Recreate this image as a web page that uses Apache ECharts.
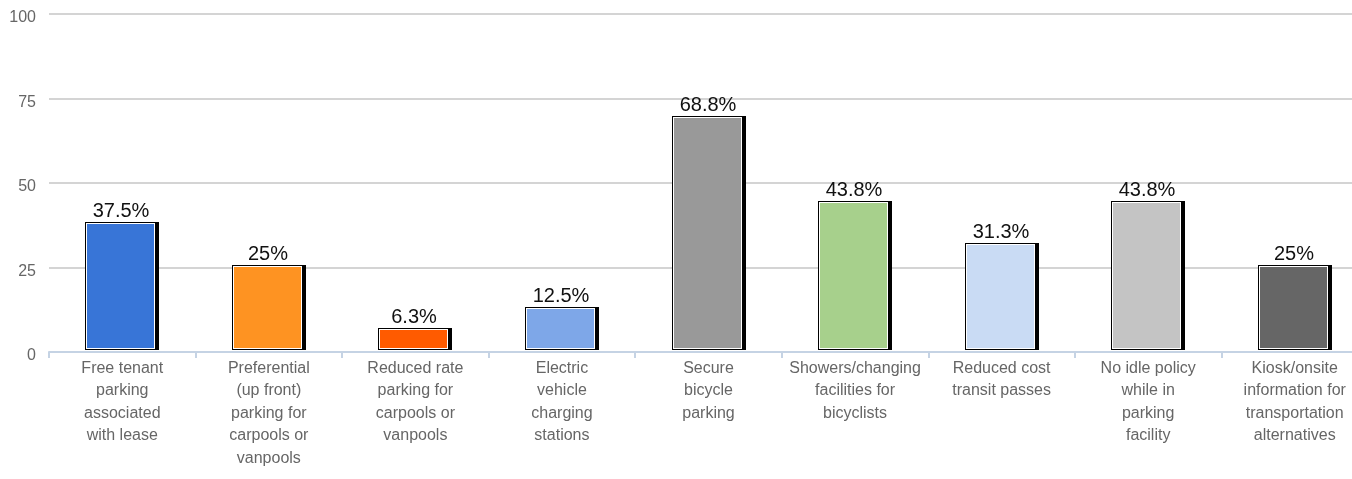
<!DOCTYPE html>
<html>
<head>
<meta charset="utf-8">
<script src="https://cdn.jsdelivr.net/npm/echarts@6/dist/echarts.min.js"></script>
<style>
  html, body { margin: 0; padding: 0; background: #fff; }
  #chart { width: 1352px; height: 479px; }
</style>
</head>
<body>
<div id="chart"></div>
<script>
// Share of respondents offering each measure (percent)
const categories = [
  'Free tenant\nparking\nassociated\nwith lease',
  'Preferential\n(up front)\nparking for\ncarpools or\nvanpools',
  'Reduced rate\nparking for\ncarpools or\nvanpools',
  'Electric\nvehicle\ncharging\nstations',
  'Secure\nbicycle\nparking',
  'Showers/changing\nfacilities for\nbicyclists',
  'Reduced cost\ntransit passes',
  'No idle policy\nwhile in\nparking\nfacility',
  'Kiosk/onsite\ninformation for\ntransportation\nalternatives'
];
const values = [37.5, 25, 6.3, 12.5, 68.8, 43.8, 31.3, 43.8, 25];
const valueLabels = ['37.5%', '25%', '6.3%', '12.5%', '68.8%', '43.8%', '31.3%', '43.8%', '25%'];
const barColors = ['#3875d7', '#fe9322', '#ff5b00', '#7ea7e8', '#999999', '#a7d08c', '#c9dbf4', '#c4c4c4', '#666666'];
const yTicks = [0, 25, 50, 75, 100];

const chart = echarts.init(document.getElementById('chart'));

// Bar with black outline, thin white inner rim and a heavier right edge
function renderBar(params, api) {
  const idx = api.value(0);
  const val = api.value(1);
  const top = api.coord([idx, val]);
  const base = api.coord([idx, 0]);
  const band = api.size([1, 0])[0];
  const w = Math.round(band * 0.505);
  const L = Math.round(top[0] - w / 2);
  const T = Math.round(top[1]) - 3;
  const B = Math.round(base[1]) - 2;
  const h = B - T;
  return {
    type: 'group',
    children: [
      { type: 'rect', shape: { x: L, y: T, width: w, height: h }, style: { fill: '#000' } },
      { type: 'rect', shape: { x: L + 1, y: T + 1, width: w - 5, height: h - 2 }, style: { fill: '#fff' } },
      { type: 'rect', shape: { x: L + 2, y: T + 2, width: w - 7, height: h - 4 }, style: { fill: barColors[idx] } },
      {
        type: 'text',
        x: L + w / 2 - 1,
        y: T - 1,
        style: {
          text: valueLabels[idx],
          fill: '#111',
          font: '20px "Liberation Sans", Arial, sans-serif',
          align: 'center',
          verticalAlign: 'bottom'
        }
      }
    ]
  };
}

chart.setOption({
  animation: false,
  grid: { left: 49, right: -16, top: 14, bottom: 127, containLabel: false, outerBoundsMode: 'none' },
  xAxis: {
    type: 'category',
    data: categories,
    axisLine: { lineStyle: { color: '#c5d3e4', width: 2 } },
    axisTick: { show: true, alignWithLabel: false, length: 6, lineStyle: { color: '#c5d3e4', width: 2 } },
    axisLabel: {
      interval: 0,
      color: '#666',
      fontFamily: '"Liberation Sans", Arial, sans-serif',
      fontSize: 16,
      lineHeight: 22.5,
      margin: 5
    },
    splitLine: { show: false }
  },
  yAxis: {
    type: 'value',
    min: 0,
    max: 100,
    interval: 25,
    axisLine: { show: false },
    axisTick: { show: false },
    axisLabel: {
      color: '#666',
      fontFamily: '"Liberation Sans", Arial, sans-serif',
      fontSize: 16,
      margin: 13,
      verticalAlign: 'top',
      lineHeight: 8,
      formatter: v => (yTicks.includes(v) ? String(v) : '')
    },
    splitLine: { lineStyle: { color: '#c6c6c6', width: 1.5 } }
  },
  series: [{
    type: 'custom',
    renderItem: renderBar,
    encode: { x: 0, y: 1 },
    data: values.map((v, i) => [i, v]),
    clip: false
  }]
});
</script>
</body>
</html>
